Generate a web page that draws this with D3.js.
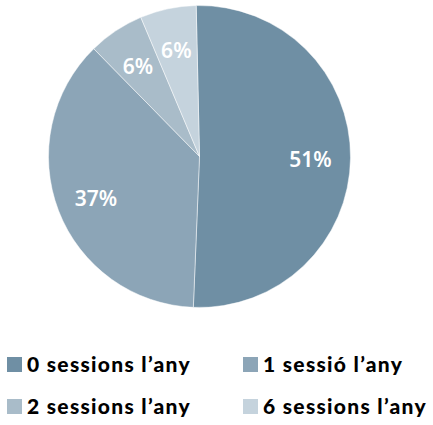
<!DOCTYPE html>
<html>
<head>
<meta charset="utf-8">
<script src="https://cdn.jsdelivr.net/npm/d3@7"></script>
<style>
  body { margin: 0; background: #fff; }
</style>
</head>
<body>
<svg width="433" height="425"></svg>
<script>
var categories = ["0 sessions l\u2019any", "1 sessió l\u2019any", "2 sessions l\u2019any", "6 sessions l\u2019any"];
var values = [51, 37, 6, 6];
var colors = ["#6f8fa4", "#8ca5b7", "#a9bcc9", "#c5d3dd"];

var svg = d3.select("svg"),
  cx = 199.5,
  cy = 156.5,
  radius = 151;

var data = categories.map(function (c, i) {
  return { name: c, value: values[i] };
});

var color = d3.scaleOrdinal().domain(categories).range(colors);

// chart starts a touch left of 12 o'clock
var start = -0.022;
var pie = d3.pie().sort(null)
  .startAngle(start).endAngle(start + 2 * Math.PI)
  .value(function (d) { return d.value; });
var arc = d3.arc().innerRadius(0).outerRadius(radius);
var labelArc = d3.arc().innerRadius(111).outerRadius(111);

var g = svg.append("g").attr("transform", "translate(" + cx + "," + cy + ")");

g.selectAll("path")
  .data(pie(data))
  .enter()
  .append("path")
  .attr("d", arc)
  .style("fill", function (d) { return color(d.data.name); })
  .style("stroke", "#ffffff")
  .style("stroke-opacity", 0.6)
  .style("stroke-width", 0.8);

g.selectAll("text.pct")
  .data(pie(data))
  .enter()
  .append("text")
  .attr("class", "pct")
  .attr("transform", function (d) {
    var c = labelArc.centroid(d);
    return "translate(" + c[0] + "," + (c[1] + 2) + ")";
  })
  .attr("text-anchor", "middle")
  .attr("dy", "0.36em")
  .style("font-family", "'Noto Sans', sans-serif")
  .style("font-weight", 600)
  .style("font-size", "21px")
  .style("fill", "#ffffff")
  .text(function (d) { return d.data.value + "%"; });

// Legend
var legendX = [7, 243],
  legendY = [372, 414];

var legend = svg.selectAll("g.legend")
  .data(data)
  .enter()
  .append("g")
  .attr("class", "legend")
  .attr("transform", function (d, i) {
    return "translate(" + legendX[i % 2] + "," + legendY[Math.floor(i / 2)] + ")";
  });

legend.append("rect")
  .attr("x", 0)
  .attr("y", -15)
  .attr("width", 15)
  .attr("height", 15)
  .style("fill", function (d) { return color(d.name); });

legend.append("text")
  .attr("x", 20)
  .attr("y", 0)
  .style("font-family", "Lato, sans-serif")
  .style("font-weight", 900)
  .style("font-size", "21px")
  .style("letter-spacing", "1.3px")
  .style("fill", "#000")
  .text(function (d) { return d.name; });
</script>
</body>
</html>
